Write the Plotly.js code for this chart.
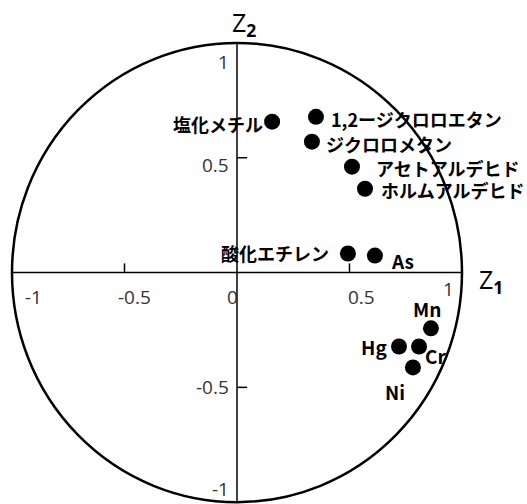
<!DOCTYPE html>
<html>
<head>
<meta charset="utf-8">
<script src="https://cdn.plot.ly/plotly-3.0.1.min.js"></script>
<style>html,body{margin:0;padding:0;background:#fff;}#chart{width:527px;height:504px;}</style>
</head>
<body>
<div id="chart"></div>
<script>
// ---- data ----
const labels = ['塩化メチル','1,2ージクロロエタン','ジクロロメタン','アセトアルデヒド','ホルムアルデヒド','酸化エチレン','As','Mn','Hg','Cr','Ni'];
const z1 = [0.156, 0.351, 0.333, 0.511, 0.569, 0.493, 0.613, 0.862, 0.720, 0.809, 0.782];
const z2 = [0.657, 0.678, 0.570, 0.461, 0.365, 0.083, 0.074, -0.243, -0.322, -0.322, -0.413];
const xTickVals = [-1, -0.5, 0, 0.5, 1];
const xTickText = ['-1', '-0.5', '0', '0.5', '1'];
const yTickVals = [1, 0.5, -0.5, -1];
const yTickText = ['1', '0.5', '-0.5', '-1'];
const xAxisTitle = 'Z<sub><b>1</b></sub>';
const yAxisTitle = 'Z<sub><b>2</b></sub>';

// ---- label placement styles (pixel offsets) ----
const labelStyle = [
  {xa:'right', dx:-8,  dy:-2},
  {xa:'left',  dx:14,  dy:-2},
  {xa:'left',  dx:13,  dy:-2},
  {xa:'left',  dx:23,  dy:-1},
  {xa:'left',  dx:15,  dy:-1},
  {xa:'right', dx:-18, dy:0},
  {xa:'left',  dx:15,  dy:-5},
  {xa:'center',dx:-4,  dy:20},
  {xa:'right', dx:-11, dy:0},
  {xa:'left',  dx:5,   dy:-9},
  {xa:'center',dx:-18, dy:-24}
];
const xTickShift = [{dx:22,dy:-24},{dx:10,dy:-24},{dx:-4,dy:-24},{dx:12,dy:-24},{dx:-14,dy:-16}];
const yTickShift = [{dy:-19},{dy:-7},{dy:0},{dy:13}];

const jpFont = '"Noto Sans CJK JP", "Noto Sans", sans-serif';
const numFont = '"Open Sans", "Noto Sans", sans-serif';

const annotations = [];
labels.forEach((t, i) => {
  const s = labelStyle[i];
  const isJp = /[^\x00-\x7F]/.test(t);
  annotations.push({
    x: z1[i], y: z2[i], xref:'x', yref:'y', text: '<b>' + t + '</b>', showarrow:false,
    xanchor: s.xa, yanchor:'middle', xshift: s.dx, yshift: s.dy, borderpad:0,
    font: {family: jpFont, size: isJp ? 18 : 19, color:'#000'}
  });
});
xTickVals.forEach((v, i) => {
  annotations.push({
    x: v, y: 0, xref:'x', yref:'y', text: xTickText[i], showarrow:false,
    xanchor:'center', yanchor:'middle', xshift: xTickShift[i].dx, yshift: xTickShift[i].dy,
    font: {family: numFont, size: 19, color:'#333'}
  });
});
yTickVals.forEach((v, i) => {
  annotations.push({
    x: 0, y: v, xref:'x', yref:'y', text: yTickText[i], showarrow:false,
    xanchor:'right', yanchor:'middle', xshift: -6, yshift: yTickShift[i].dy,
    font: {family: numFont, size: 19, color:'#333'}
  });
});
annotations.push({
  x: 1, y: 0, xref:'x', yref:'y', text: xAxisTitle, showarrow:false,
  xanchor:'left', yanchor:'middle', xshift: 15, yshift: -8,
  font: {family: numFont, size: 25, color:'#000'}
});
annotations.push({
  x: 0, y: 1, xref:'x', yref:'y', text: yAxisTitle, showarrow:false,
  xanchor:'center', yanchor:'middle', xshift: 7, yshift: 19,
  font: {family: numFont, size: 25, color:'#000'}
});

const shapes = [
  {type:'circle', xref:'x', yref:'y', x0:-1, x1:1, y0:-1, y1:1, line:{color:'#000', width:2.5}, layer:'below'},
  {type:'line', xref:'x', yref:'y', x0:-1, x1:1, y0:0, y1:0, line:{color:'#000', width:1.5}, layer:'below'},
  {type:'line', xref:'x', yref:'y', x0:0, x1:0, y0:-1, y1:1, line:{color:'#000', width:1.5}, layer:'below'}
];
[-0.5, 0.5].forEach(v => {
  shapes.push({type:'line', xref:'x', yref:'y', x0:v, x1:v, y0:0, y1:0.04, line:{color:'#000', width:1.5}, layer:'below'});
  shapes.push({type:'line', xref:'x', yref:'y', x0:0, x1:0.045, y0:v, y1:v, line:{color:'#000', width:1.5}, layer:'below'});
});

const trace = {
  type:'scatter', mode:'markers', x: z1, y: z2,
  marker:{size:16, color:'#000'}, hoverinfo:'skip', showlegend:false
};

const layout = {
  width:527, height:504,
  margin:{l:0, r:0, t:0, b:0, pad:0},
  paper_bgcolor:'#fff', plot_bgcolor:'#fff',
  xaxis:{range:[-1.0533, 1.2889], visible:false, fixedrange:true},
  yaxis:{range:[-1.008, 1.187], visible:false, fixedrange:true},
  shapes: shapes,
  annotations: annotations,
  showlegend:false
};

Plotly.newPlot('chart', [trace], layout, {displayModeBar:false, staticPlot:true});
</script>
</body>
</html>
